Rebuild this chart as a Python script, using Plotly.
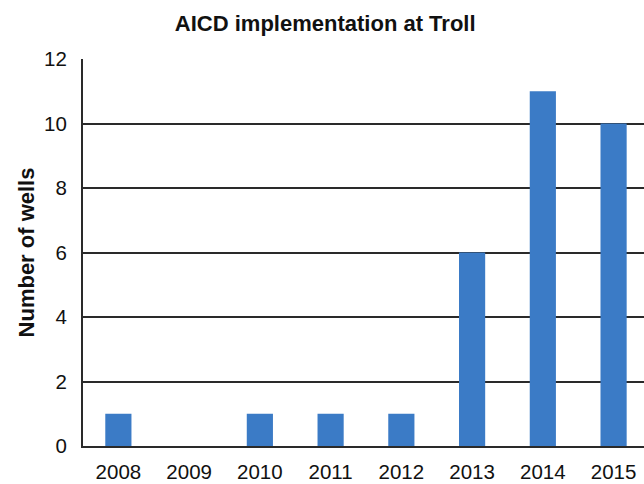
import plotly.graph_objects as go

# AICD wells installed per year at Troll
years = ["2008", "2009", "2010", "2011", "2012", "2013", "2014", "2015"]
wells = [1, 0, 1, 1, 1, 6, 11, 10]
y_ticks = [0, 2, 4, 6, 8, 10, 12]

BAR_COLOR = "#3b7bc6"
LINE_COLOR = "#2a2a2a"
FONT = "Liberation Sans, Arial, Helvetica, sans-serif"

fig = go.Figure(
    go.Bar(
        x=years,
        y=wells,
        marker=dict(color=BAR_COLOR, line=dict(width=0)),
        width=0.37,
    )
)

fig.update_layout(
    width=644,
    height=484,
    margin=dict(l=83, r=0, t=59, b=38),
    paper_bgcolor="white",
    plot_bgcolor="white",
    showlegend=False,
    font=dict(family=FONT, color="#111111"),
    title=dict(
        text="<b>AICD implementation at Troll</b>",
        x=0.505,
        xanchor="center",
        y=0.952,
        yanchor="middle",
        font=dict(size=22, family=FONT, color="#111111"),
    ),
)

fig.update_xaxes(
    type="category",
    range=[-0.5, 7.43],
    showgrid=False,
    showline=True,
    linecolor=LINE_COLOR,
    linewidth=2,
    ticks="",
    ticklabelstandoff=6,
    tickfont=dict(size=20.5, family=FONT, color="#111111"),
    zeroline=False,
)

fig.update_yaxes(
    range=[0, 12],
    tickvals=y_ticks,
    showgrid=True,
    gridcolor=LINE_COLOR,
    gridwidth=2,
    showline=True,
    linecolor=LINE_COLOR,
    linewidth=2,
    ticks="",
    ticklabelstandoff=10,
    tickfont=dict(size=20.5, family=FONT, color="#111111"),
    zeroline=False,
    title=dict(
        text="<b>Number of wells</b>",
        font=dict(size=22, family=FONT, color="#111111"),
        standoff=3,
    ),
)

fig.write_html("out.html")
